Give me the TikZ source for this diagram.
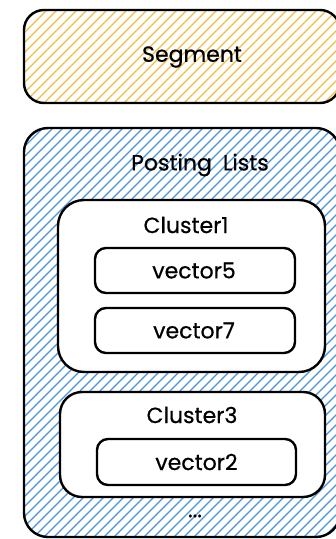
\documentclass[tikz,border=0pt]{standalone}
\usepackage{fontspec}
\setmainfont{Poppins}[FakeBold=0.6]
\definecolor{hatchyellow}{RGB}{242,188,64}
\definecolor{hatchblue}{RGB}{74,148,218}
\begin{document}
\begin{tikzpicture}[x=1pt,y=-1pt,
  box/.style={draw=black, line width=2.4pt, rounded corners=#1, inner sep=0pt},
  box/.default=12pt,
  hatched/.style={path picture={
    \foreach \k in {-50,...,40}
      \draw[#1, line width=1.2pt]
        ([xshift=\k*10pt]path picture bounding box.south west) -- ++(500pt,500pt);
  }},
  lbl/.style={font=\fontsize{22}{26}\selectfont, inner sep=0pt}]
  \useasboundingbox (0,0) rectangle (336,539);
  \clip (0,0) rectangle (336,539);

  % top segment box
  \node[box=20pt, hatched=hatchyellow, minimum width=316pt, minimum height=93pt] (seg) at (182,56.5) {};
  \node[lbl] (segtxt) at (192,57) {Segment};

  % posting lists container
  \node[box=24pt, hatched=hatchblue, minimum width=316pt, minimum height=409pt] (post) at (182,332.5) {};
  \node[lbl] (posttxt) at (200,165) {Posting\hspace{0.5em}Lists};

  % first cluster
  \node[box=26pt, fill=white, minimum width=267pt, minimum height=172pt] (c1) at (191.5,286) {};
  \node[lbl] (c1txt) at (186,225) {Cluster1};
  \node[box=11pt, fill=white, minimum width=200pt, minimum height=45pt] (v5) at (195,270.5) {};
  \node[lbl] at ([xshift=-1pt]v5) {vector5};
  \node[box=11pt, fill=white, minimum width=200pt, minimum height=45pt] (v7) at (195,330.5) {};
  \node[lbl] at ([xshift=-1pt]v7) {vector7};

  % second cluster
  \node[box=22pt, fill=white, minimum width=265pt, minimum height=105pt] (c3) at (192.5,444.5) {};
  \node[lbl] (c3txt) at (192,415) {Cluster3};
  \node[box=11pt, fill=white, minimum width=199pt, minimum height=46pt] (v2) at (196.5,462) {};
  \node[lbl] at (v2) {vector2};

  \node[lbl] (more) at (195,516) {...};
\end{tikzpicture}
\end{document}
